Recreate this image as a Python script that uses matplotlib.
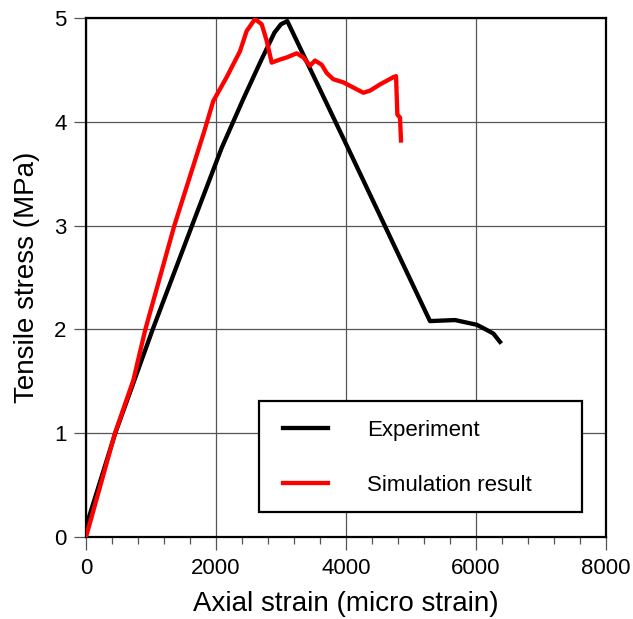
import matplotlib
matplotlib.use("Agg")
import matplotlib.pyplot as plt
from matplotlib.ticker import MultipleLocator
from matplotlib.patches import Rectangle

plt.rcParams['font.family'] = ['Liberation Sans', 'DejaVu Sans']

# Experiment (black)
exp_strain = [0, 450, 1026, 1631, 2088, 2420, 2700, 2900, 3000, 3097,
              4036, 5292, 5677, 6010, 6150, 6267, 6369]
exp_stress = [0.10, 1.00, 2.00, 3.00, 3.75, 4.22, 4.60, 4.86, 4.94, 4.97,
              3.74, 2.08, 2.09, 2.045, 2.00, 1.96, 1.88]

# Simulation result (red)
sim_strain = [0, 446, 728, 913, 1359, 1820, 1958, 2164, 2369, 2472, 2600, 2703,
              2780, 2857, 2985, 3088, 3241, 3344, 3446, 3523, 3626, 3703, 3805,
              3959, 4113, 4267, 4369, 4523, 4728, 4770, 4790, 4831, 4846]
sim_stress = [0.0, 1.00, 1.51, 2.00, 3.00, 3.91, 4.20, 4.43, 4.68, 4.875, 4.99, 4.94,
              4.78, 4.57, 4.60, 4.62, 4.66, 4.62, 4.54, 4.59, 4.55, 4.47, 4.41,
              4.38, 4.33, 4.28, 4.30, 4.36, 4.43, 4.44, 4.07, 4.04, 3.82]

x_ticks = [0, 2000, 4000, 6000, 8000]
y_ticks = [0, 1, 2, 3, 4, 5]

fig = plt.figure(figsize=(6.33, 6.19), dpi=100)
ax = fig.add_axes([86/633, 82/619, 520/633, 519/619])

ax.plot(exp_strain, exp_stress, color='black', lw=3.1, label='Experiment',
        solid_joinstyle='round', zorder=3)
ax.plot(sim_strain, sim_stress, color='red', lw=3.1, label='Simulation result',
        solid_joinstyle='round', zorder=4)

ax.set_xlim(0, 8000)
ax.set_ylim(0, 5)
ax.set_xticks(x_ticks)
ax.set_yticks(y_ticks)
ax.xaxis.set_minor_locator(MultipleLocator(400))
ax.grid(True, which='major', color='#555555', lw=0.9)
ax.set_axisbelow(True)

ax.tick_params(axis='both', which='major', direction='out', length=9, width=0.9,
               color='#555555', labelsize=16, pad=5)
ax.tick_params(axis='x', which='minor', direction='out', length=5, width=0.9,
               color='#555555')
ax.tick_params(axis='x', which='major', pad=6)

for s in ax.spines.values():
    s.set_linewidth(1.6)
    s.set_color('black')

ax.set_xlabel('Axial strain (micro strain)', fontsize=20, labelpad=9)
ax.set_ylabel('Tensile stress (MPa)', fontsize=20, labelpad=10)

# legend frame
frame = Rectangle((0.333, 0.0487), 0.62, 0.2133, transform=ax.transAxes,
                  facecolor='white', edgecolor='black', lw=1.6, zorder=5)
ax.add_patch(frame)

leg = ax.legend(loc='upper left', bbox_to_anchor=(0.3788, 0.2254),
                fontsize=16, frameon=False, handlelength=2.03,
                handletextpad=1.76, labelspacing=1.54, borderpad=0,
                borderaxespad=0)
leg.set_zorder(6)

fig.savefig('out.png', dpi=100)
